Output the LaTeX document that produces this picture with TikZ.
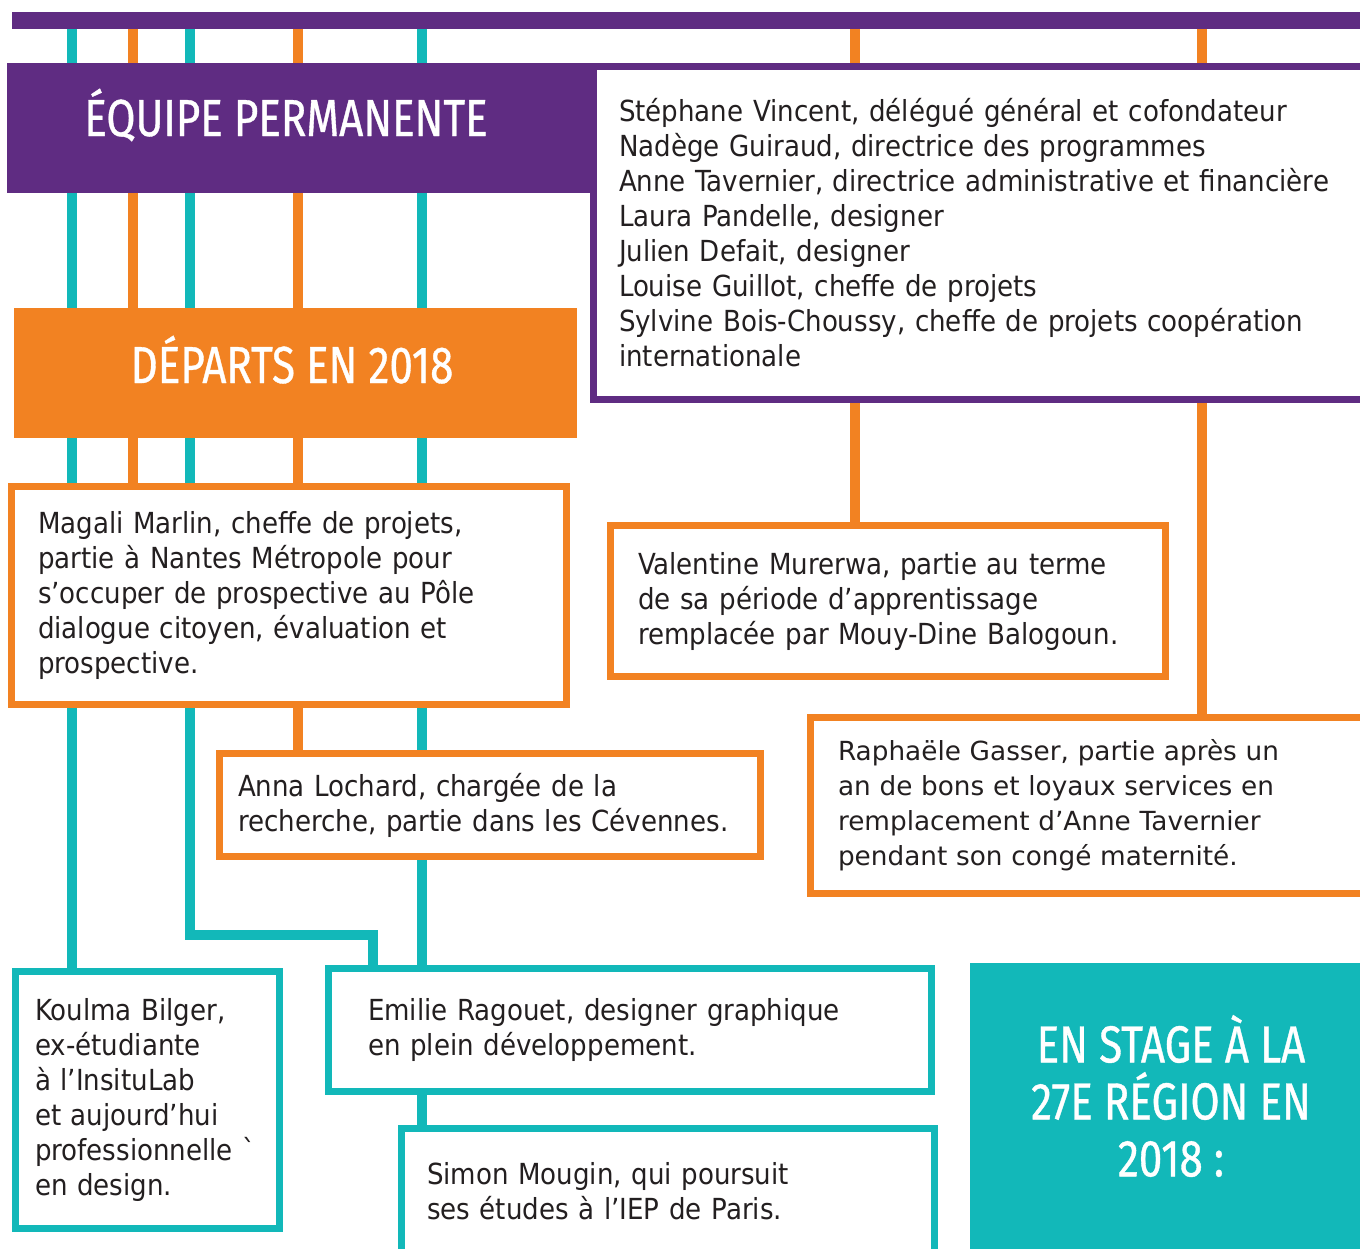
\documentclass[tikz,border=0pt]{standalone}
\usepackage{fontspec}
\setmainfont{DejaVu Sans Condensed}
\newfontfamily\widefont{DejaVu Sans}
\newfontfamily\headfont[FakeStretch=0.81,FakeBold=0.7]{Fira Sans}
\usetikzlibrary{backgrounds}

\definecolor{violet27}{RGB}{95,44,130}
\definecolor{orange27}{RGB}{242,130,34}
\definecolor{teal27}{RGB}{18,184,185}
\definecolor{ink}{RGB}{35,31,32}

\tikzstyle{every node}+=[inner sep=0pt,outer sep=0pt]
\tikzstyle{link}=[line width=10pt]
\tikzstyle{band}=[anchor=north west]
\tikzstyle{headline}=[text=white,align=center,font=\headfont\fontsize{52}{57}\selectfont]
\tikzstyle{card}=[anchor=north west,fill=white,line width=7pt,text=ink,align=left,font=\fontsize{29}{35}\selectfont]

\newcommand{\droplines}[2][]{
	\foreach \c/\t in {#2}{
		\draw[link,#1] (topbar.south -| \c) -- (\t.north -| \c);
	}
}

\begin{document}
\begin{tikzpicture}[x=1pt,y=-1pt]
\useasboundingbox (0,0) rectangle (1360,1248);

\node[band,fill=violet27,minimum width=1363pt,minimum height=17pt] (topbar) at (12,12) {};

% en-tetes
\node[band,fill=violet27,minimum width=583pt,minimum height=130pt] (equipe) at (7,63) {};
\node[headline,anchor=base] (equipetitle) at (286,136) {ÉQUIPE PERMANENTE};
\node[band,fill=orange27,minimum width=563pt,minimum height=130pt] (departs) at (14,308) {};
\node[headline,anchor=base] (departstitle) at (292,383) {DÉPARTS EN 2018};
\node[band,fill=teal27,minimum width=405pt,minimum height=297pt] (stage) at (970,963) {};
\node[headline] (stagetitle) at (1171,1096) {EN STAGE À LA\\27E RÉGION EN\\2018 :};

% equipe permanente
\node[card,draw=violet27,text width=727pt,minimum height=333pt,inner xsep=25.5pt] (stephane) at (593.5,66.5) {Stéphane Vincent, délégué général et cofondateur\\
Nadège Guiraud, directrice des programmes\\
Anne Tavernier, directrice administrative et financière\\
Laura Pandelle, designer\\
Julien Defait, designer\\
Louise Guillot, cheffe de projets\\
Sylvine Bois-Choussy, cheffe de projets coopération\\
internationale};

% departs
\node[card,draw=orange27,text width=502pt,minimum height=218pt,inner xsep=26.5pt] (magali) at (11.5,486.5) {Magali Marlin, cheffe de projets,\\
partie à Nantes Métropole pour\\
s’occuper de prospective au Pôle\\
dialogue citoyen, évaluation et\\
prospective.};
\node[card,draw=orange27,text width=500pt,minimum height=151pt,inner xsep=27.5pt] (valentine) at (610.5,525.5) {Valentine Murerwa, partie au terme\\
de sa période d’apprentissage\\
remplacée par Mouy-Dine Balogoun.};
\node[card,draw=orange27,text width=504pt,minimum height=103pt,inner xsep=18.5pt] (anna) at (219.5,753.5) {Anna Lochard, chargée de la\\
recherche, partie dans les Cévennes.};
\node[card,draw=orange27,text width=506pt,minimum height=176pt,inner xsep=27.5pt,font=\widefont\fontsize{26.3}{35}\selectfont] (raphaele) at (810.5,717.5) {Raphaële Gasser, partie après un\\
an de bons et loyaux services en\\
remplacement d’Anne Tavernier\\
pendant son congé maternité.};

% stagiaires
\node[card,draw=teal27,text width=225pt,minimum height=257pt,inner xsep=19.5pt] (koulma) at (15.5,971.5) {Koulma Bilger,\\
ex-étudiante\\
à l’InsituLab\\
et aujourd’hui\\
professionnelle ˋ\\
en design.};
\node[card,draw=teal27,text width=524pt,minimum height=123pt,inner xsep=39.5pt] (emilie) at (328.5,968.5) {Emilie Ragouet, designer graphique\\
en plein développement.};
\node[card,draw=teal27,text width=482pt,minimum height=125pt,inner xsep=25.5pt] (simon) at (401.5,1128.5) {Simon Mougin, qui poursuit\\
ses études à l’IEP de Paris.};

% liens
\coordinate (c1) at (72,0);
\coordinate (c2) at (133,0);
\coordinate (c3) at (190,0);
\coordinate (c4) at (298,0);
\coordinate (c5) at (422,0);
\coordinate (c6) at (855,0);
\coordinate (c7) at (1202,0);
\coordinate (elbow) at (373,935);
\begin{scope}[on background layer]
\droplines[teal27]{c1/koulma,c5/simon}
\droplines[orange27]{c2/magali,c4/anna,c6/valentine,c7/raphaele}
\draw[link,teal27] (topbar.south -| c3) |- (elbow) -- (elbow |- emilie.north);
\end{scope}
\end{tikzpicture}
\end{document}
